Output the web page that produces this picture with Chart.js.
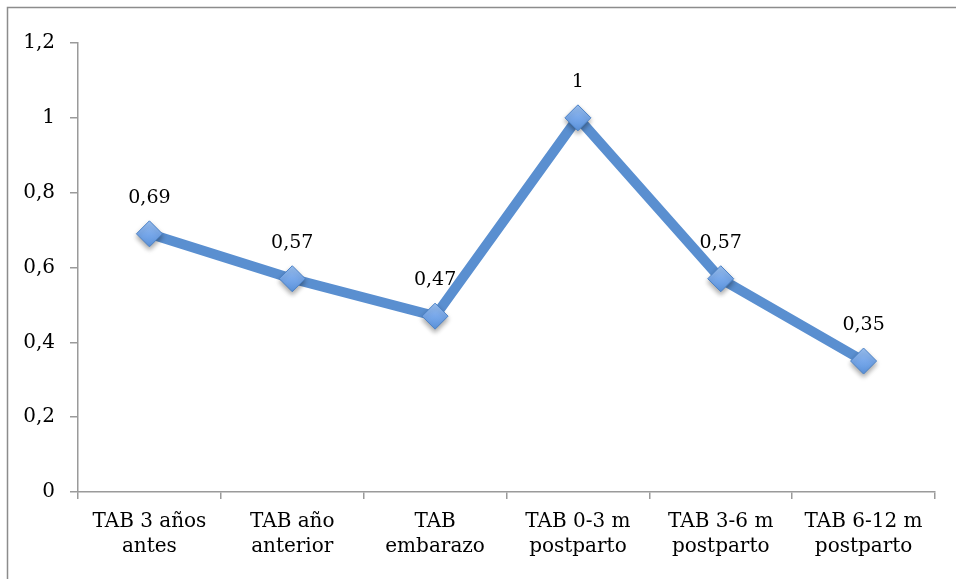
<!DOCTYPE html>
<html>
<head>
<meta charset="utf-8">
<script src="https://cdn.jsdelivr.net/npm/chart.js@4/dist/chart.umd.min.js"></script>
<style>
  html, body { margin: 0; padding: 0; background: #fff; }
  #wrap { width: 956px; height: 579px; position: relative; }
</style>
</head>
<body>
<div id="wrap"><canvas id="c" width="956" height="579"></canvas></div>
<script>
// Categories (two-line labels) and series values
const categories = [
  ['TAB 3 años', 'antes'],
  ['TAB año', 'anterior'],
  ['TAB', 'embarazo'],
  ['TAB 0-3 m', 'postparto'],
  ['TAB 3-6 m', 'postparto'],
  ['TAB 6-12 m', 'postparto']
];
const values = [0.69, 0.57, 0.47, 1, 0.57, 0.35];
const yTicks = [0, 0.2, 0.4, 0.6, 0.8, 1, 1.2];

const FONT = '"DejaVu Serif", "Liberation Serif", serif';
const AXIS = '#9a9a9a';
const LINE = '#5a8fd0';

const fmt = v => String(+v.toFixed(2)).replace('.', ',');

// Outer frame: top and left edges of the chart box
const framePlugin = {
  id: 'frame',
  beforeDraw(chart) {
    const ctx = chart.ctx;
    ctx.save();
    ctx.strokeStyle = '#8c8c8c';
    ctx.lineWidth = 1.5;
    ctx.beginPath();
    ctx.moveTo(7.5, chart.height);
    ctx.lineTo(7.5, 7.5);
    ctx.lineTo(chart.width, 7.5);
    ctx.stroke();
    ctx.restore();
  }
};

// Soft shadow under the diamond markers only
const shadowPlugin = {
  id: 'markerShadow',
  beforeDatasetDraw(chart, args) {
    if (args.index !== 1) return;
    const ctx = chart.ctx;
    ctx.save();
    ctx.shadowColor = 'rgba(0,0,0,0.35)';
    ctx.shadowBlur = 5;
    ctx.shadowOffsetY = 3;
  },
  afterDatasetDraw(chart, args) {
    if (args.index !== 1) return;
    chart.ctx.restore();
  }
};

// Value labels above each point
const valueLabels = {
  id: 'valueLabels',
  afterDatasetsDraw(chart) {
    const ctx = chart.ctx;
    const meta = chart.getDatasetMeta(1);
    ctx.save();
    ctx.font = '19px ' + FONT;
    ctx.fillStyle = '#000';
    ctx.textAlign = 'center';
    ctx.textBaseline = 'alphabetic';
    meta.data.forEach((pt, i) => {
      ctx.fillText(fmt(values[i]), pt.x, pt.y - 31);
    });
    ctx.restore();
  }
};

function markerFill(context) {
  const el = context.element;
  const c = context.chart.ctx;
  if (!el || el.y == null || isNaN(el.y)) return '#7fa8e0';
  const g = c.createLinearGradient(el.x, el.y - 13, el.x, el.y + 13);
  g.addColorStop(0, '#9cc2f3');
  g.addColorStop(0.5, '#78a8ea');
  g.addColorStop(1, '#5b93dc');
  return g;
}

new Chart(document.getElementById('c'), {
  type: 'line',
  data: {
    labels: categories,
    datasets: [
      {
        data: values,
        order: 2,
        borderColor: LINE,
        borderWidth: 10,
        pointRadius: 0,
        pointHoverRadius: 0,
        tension: 0,
        fill: false
      },
      {
        data: values,
        order: 1,
        showLine: false,
        pointStyle: 'rectRot',
        pointRadius: 13,
        pointHoverRadius: 13,
        pointBackgroundColor: markerFill,
        pointBorderColor: '#4c82c6',
        pointBorderWidth: 1
      }
    ]
  },
  options: {
    responsive: false,
    animation: false,
    events: [],
    layout: { padding: { top: 43, right: 21, left: 0, bottom: 0 } },
    plugins: { legend: { display: false }, tooltip: { enabled: false } },
    scales: {
      x: {
        offset: true,
        grid: {
          offset: true,
          drawOnChartArea: false,
          drawTicks: true,
          tickLength: 7,
          tickColor: AXIS,
          lineWidth: 1.5
        },
        border: { display: true, color: AXIS, width: 1.5 },
        ticks: {
          color: '#000',
          font: { family: FONT, size: 20, lineHeight: 1.25 },
          padding: 10,
          maxRotation: 0,
          autoSkip: false
        },
        afterFit(scale) { scale.height = 579 - 492; }
      },
      y: {
        min: 0,
        max: 1.2,
        afterBuildTicks(scale) { scale.ticks = yTicks.map(v => ({ value: v })); },
        grid: {
          drawOnChartArea: false,
          drawTicks: true,
          tickLength: 8,
          tickColor: AXIS,
          lineWidth: 1.5
        },
        border: { display: true, color: AXIS, width: 1.5 },
        ticks: {
          color: '#000',
          font: { family: FONT, size: 20 },
          padding: 15,
          callback: v => fmt(v)
        },
        afterFit(scale) { scale.width = 78; }
      }
    }
  },
  plugins: [framePlugin, shadowPlugin, valueLabels]
});
</script>
</body>
</html>
